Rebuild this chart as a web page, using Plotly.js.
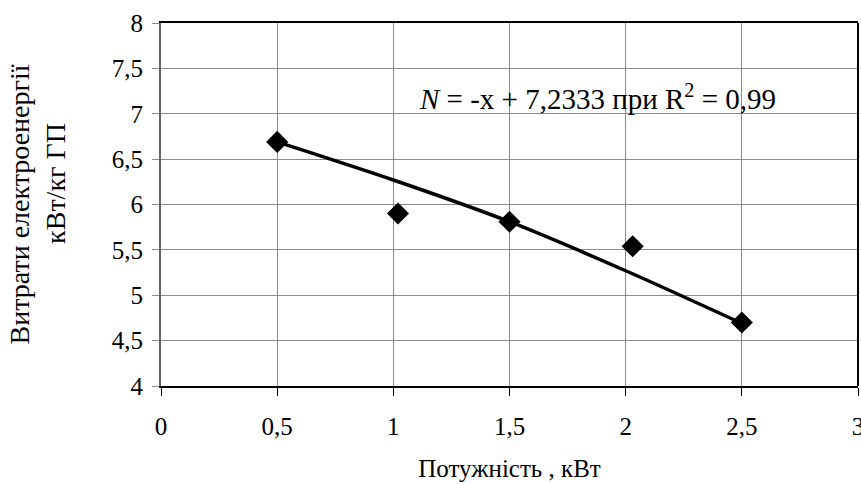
<!DOCTYPE html>
<html>
<head>
<meta charset="utf-8">
<script src="https://cdn.plot.ly/plotly-3.0.1.min.js"></script>
<style>
html,body{margin:0;padding:0;background:#fff;}
#chart{width:861px;height:484px;}
</style>
</head>
<body>
<div id="chart"></div>
<script>
// Measured data points
const powerKW = [0.5, 1.02, 1.5, 2.03, 2.5];
const energyUse = [6.69, 5.9, 5.81, 5.54, 4.7];
// Smoothed trend line values
const trendX = [0.5, 1.0, 1.5, 2.0, 2.5];
const trendY = [6.69, 6.27, 5.81, 5.27, 4.69];
// Tick labels
const xTickVals = [0, 0.5, 1, 1.5, 2, 2.5, 3];
const xTickText = ["0", "0,5", "1", "1,5", "2", "2,5", "3"];
const yTickVals = [4, 4.5, 5, 5.5, 6, 6.5, 7, 7.5, 8];
const yTickText = ["4", "4,5", "5", "5,5", "6", "6,5", "7", "7,5", "8"];
const xTitle = "Потужність , кВт";
const pad = "\u00a0\u00a0\u00a0\u00a0\u00a0\u00a0";
const yTitle = pad + "Витрати електроенергії<br>" + pad + "кВт/кг ГП";
const eqText = "<i>N</i> = -x + 7,2333 при R<sup>2</sup> = 0,99";

const fam = "Liberation Serif";

const traces = [
  {
    x: trendX, y: trendY, type: 'scatter', mode: 'lines',
    line: {color: '#000', width: 3.5, shape: 'spline', smoothing: 0.8},
    hoverinfo: 'skip', showlegend: false
  },
  {
    x: powerKW, y: energyUse, type: 'scatter', mode: 'markers',
    marker: {symbol: 'diamond', size: 17, color: '#000'},
    showlegend: false
  }
];

const layout = {
  width: 861, height: 484,
  margin: {l: 161, r: 3, t: 23, b: 98},
  paper_bgcolor: '#fff', plot_bgcolor: '#fff',
  font: {family: fam, color: '#000', size: 24},
  showlegend: false,
  xaxis: {
    range: [0, 3], tickvals: xTickVals, ticktext: xTickText,
    ticklabeloverflow: 'allow', ticklabelstandoff: 9,
    showgrid: true, gridcolor: '#8c8c8c', gridwidth: 1,
    zeroline: false,
    showline: true, linecolor: '#000', linewidth: 2, mirror: true,
    ticks: 'outside', ticklen: 8, tickcolor: '#000', tickwidth: 1,
    tickfont: {family: fam, size: 25, color: '#000'},
    title: {text: xTitle, font: {family: fam, size: 25, color: '#000'}, standoff: 20}
  },
  yaxis: {
    range: [4, 8], tickvals: yTickVals, ticktext: yTickText,
    ticklabelstandoff: 4,
    showgrid: true, gridcolor: '#8c8c8c', gridwidth: 1,
    zeroline: false,
    showline: true, linecolor: '#666', linewidth: 2, mirror: false,
    ticks: 'outside', ticklen: 7, tickcolor: '#8c8c8c', tickwidth: 1,
    tickfont: {family: fam, size: 25, color: '#000'},
    title: {text: yTitle, font: {family: fam, size: 28, color: '#000'}, standoff: 38}
  },
  shapes: [
    {type: 'line', xref: 'paper', yref: 'paper', x0: 1, x1: 1, y0: 0, y1: 1,
     line: {color: '#000', width: 2}}
  ],
  annotations: [
    {x: 1.1, y: 7.19, xref: 'x', yref: 'y', xanchor: 'left', yanchor: 'middle',
     text: eqText, showarrow: false,
     font: {family: fam, size: 29, color: '#000'}}
  ]
};

Plotly.newPlot('chart', traces, layout, {displayModeBar: false, staticPlot: true});
</script>
</body>
</html>
